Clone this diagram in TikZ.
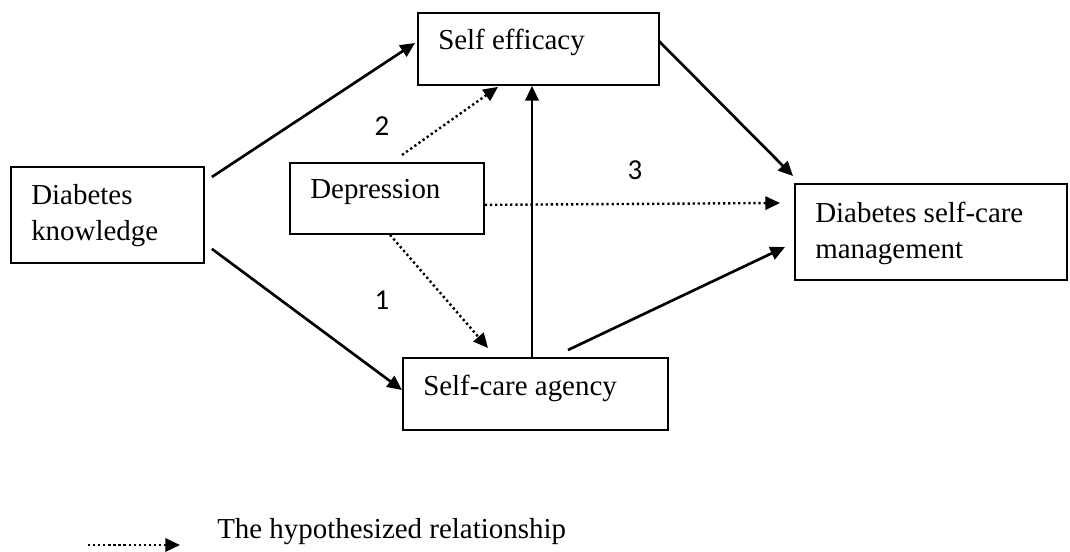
\documentclass[tikz,border=0pt]{standalone}
\usepackage{fontspec}
\setmainfont{Liberation Serif}
\newfontfamily\calib{Carlito}
\usetikzlibrary{arrows.meta,calc}
\tikzset{
  box/.style={draw, line width=1.4pt, inner sep=0pt, anchor=north west},
  txt/.style={anchor=base west, inner sep=0pt, font=\fontsize{21.7}{27}\selectfont, align=left},
  num/.style={inner sep=0pt, font=\calib\fontsize{21.7}{26}\selectfont},
  solidarrow/.style={line width=2pt, -{Triangle[length=11pt,width=10pt]}},
  dotarrow/.style={line width=1.8pt, dash pattern=on 1.7pt off 2.1pt, -{Triangle[length=11pt,width=10pt]}}
}
\begin{document}
\begin{tikzpicture}[x=0.75pt,y=-0.75pt]
\useasboundingbox (0,0) rectangle (1070,552);
% boxes
\node[box, minimum width=144.75pt, minimum height=72pt] (dk) at (10,166) {};
\node[box, minimum width=180.75pt, minimum height=54pt] (se) at (417,12) {};
\node[box, minimum width=145.5pt, minimum height=53.25pt] (dep) at (289,162) {};
\node[box, minimum width=198.75pt, minimum height=54pt] (sca) at (402,357) {};
\node[box, minimum width=204pt, minimum height=72pt] (dscm) at (794,183) {};
% texts (multi-line nodes: base is the last line)
\node[txt] (dkt) at (31,241) {Diabetes\\knowledge};
\node[txt] (set) at (438,50) {Self efficacy};
\node[txt] (dept) at (310,199) {Depression};
\node[txt] (scat) at (423,395) {Self-care agency};
\node[txt] (dscmt) at (815,258) {Diabetes self-care\\management};
% numbers
\node[num] (n2) at (382,126) {2};
\node[num] (n3) at (635,170) {3};
\node[num] (n1) at (382,300) {1};
% solid arrows
\draw[solidarrow] ($(dk.north east)+(7,11)$) -- ($(se.north west)+(-2,31)$);
\draw[solidarrow] ($(dk.south east)+(7,-15)$) -- ($(sca.north west)+(0,33)$);
\draw[solidarrow] ($(sca.north west)+(130,0)$) -- ($(se.south west)+(115,0)$);
\draw[solidarrow] ($(se.north east)+(-1,29)$) -- ($(dscm.north west)+(-1,-7)$);
\draw[solidarrow] ($(sca.north west)+(166,-7)$) -- ($(dscm.north west)+(-9,64)$);
% dotted arrows
\draw[dotarrow] ($(dep.north west)+(113,-7)$) -- ($(se.south west)+(81,1)$);
\draw[dotarrow] ($(dep.south west)+(101,0)$) -- ($(sca.north west)+(86,-9)$);
\draw[dotarrow] ($(dep.south east)+(0,-30)$) -- ($(dscm.north west)+(-14,20)$);
% legend
\coordinate (l1) at (88,545);
\coordinate (l2) at (180,545);
\draw[dotarrow] (l1) -- (l2);
\node[txt] (legt) at (217,538) {The hypothesized relationship};
\end{tikzpicture}
\end{document}
